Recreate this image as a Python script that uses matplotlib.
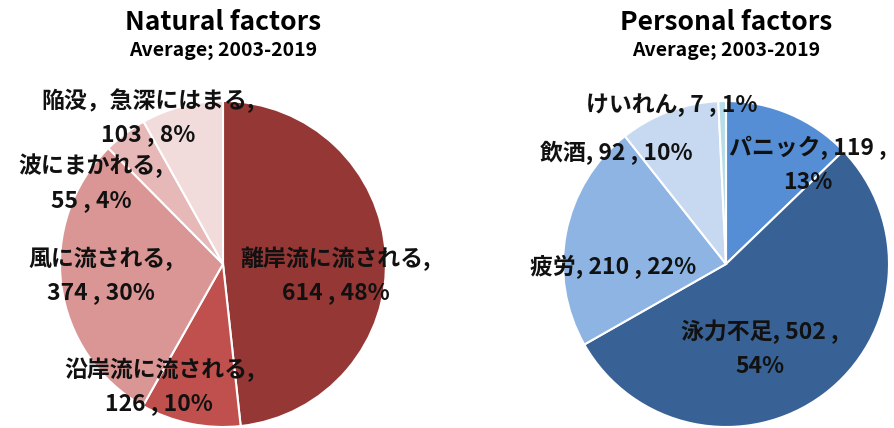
import matplotlib
matplotlib.use("Agg")
from matplotlib import pyplot as plt

plt.rcParams['font.family'] = ['Noto Sans CJK JP', 'DejaVu Sans']

# Natural factors (clockwise from 12 o'clock)
natural_names = ["離岸流に流される", "沿岸流に流される", "風に流される", "波にまかれる", "陥没，急深にはまる"]
natural_counts = [614, 126, 374, 55, 103]
natural_pcts = [48, 10, 30, 4, 8]
natural_colors = ["#953735", "#C0504D", "#D99694", "#E6B9B8", "#F2DCDB"]

# Personal factors
personal_names = ["パニック", "泳力不足", "疲労", "飲酒", "けいれん"]
personal_counts = [119, 502, 210, 92, 7]
personal_pcts = [13, 54, 22, 10, 1]
personal_colors = ["#558ED5", "#386195", "#8EB4E3", "#C6D9F1", "#B7DEE8"]

# label layout (data coords of the pie, radius 1)
natural_label_pos = [(0.69, -0.07), (-0.39, -0.75), (-0.75, -0.07), (-0.81, 0.50), (-0.46, 0.90)]
natural_label_fmt = ["{n},\n{c} , {p}%"] * 5
personal_label_pos = [(0.50, 0.61), (0.21, -0.52), (-0.69, -0.02), (-0.67, 0.68), (-0.33, 0.975)]
personal_label_fmt = ["{n}, {c} ,\n{p}%", "{n}, {c} ,\n{p}%", "{n}, {c} , {p}%", "{n}, {c} , {p}%", "{n}, {c} , {p}%"]

W, H = 894, 428
fig = plt.figure(figsize=(W / 100, H / 100), dpi=100)


def draw_pie(cx, cy, r, counts, colors, names, pcts, pos, fmt, title):
    ax = fig.add_axes([(cx - r) / W, (H - cy - r) / H, 2 * r / W, 2 * r / H])
    ax.pie(counts, colors=colors, startangle=90, counterclock=False,
           wedgeprops=dict(edgecolor="white", linewidth=1.5))
    ax.set_xlim(-1, 1)
    ax.set_ylim(-1, 1)
    ax.set_aspect("equal")
    ax.axis("off")
    for n, c, p, (x, y), f in zip(names, counts, pcts, pos, fmt):
        ax.text(x, y, f.format(n=n, c=c, p=p), ha="center", va="center",
                fontsize=16.5, fontweight="bold", linespacing=1.6, color="#111111")
    fig.text(cx / W, 1 - 22 / H, title, ha="center", va="center",
             fontsize=19, fontweight="bold")
    fig.text(cx / W, 1 - 50 / H, "Average; 2003-2019", ha="center", va="center",
             fontsize=14, fontweight="bold")


draw_pie(223, 264, 163, natural_counts, natural_colors, natural_names, natural_pcts,
         natural_label_pos, natural_label_fmt, "Natural factors")
draw_pie(726, 264, 163, personal_counts, personal_colors, personal_names, personal_pcts,
         personal_label_pos, personal_label_fmt, "Personal factors")

fig.savefig("out.png", dpi=100)
